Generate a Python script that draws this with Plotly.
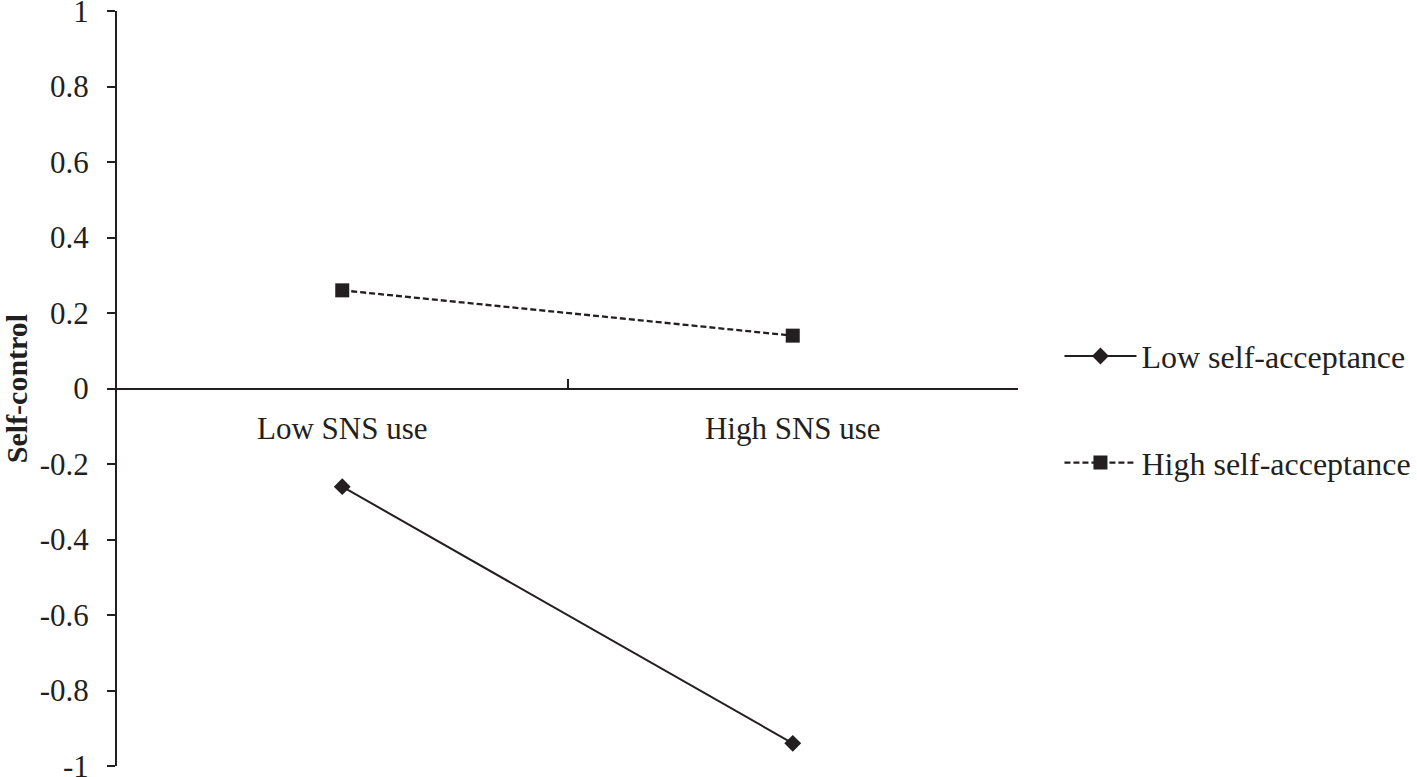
import plotly.graph_objects as go

# data
sns_levels = ["Low SNS use", "High SNS use"]
low_accept = [-0.26, -0.94]
high_accept = [0.26, 0.14]
y_ticks = [1, 0.8, 0.6, 0.4, 0.2, 0, -0.2, -0.4, -0.6, -0.8, -1]
y_tick_text = ["1", "0.8", "0.6", "0.4", "0.2", "0", "-0.2", "-0.4", "-0.6", "-0.8", "-1"]

INK = "#231f20"
FONT = "Liberation Serif"

fig = go.Figure()

fig.add_trace(go.Scatter(
    x=sns_levels, y=low_accept, mode="lines+markers", name="Low self-acceptance",
    line=dict(color=INK, width=2),
    marker=dict(symbol="diamond", size=13, color=INK),
    legendgroup="a",
))
fig.add_trace(go.Scatter(
    x=sns_levels, y=high_accept, mode="lines+markers", name="High self-acceptance",
    line=dict(color=INK, width=2.3, dash="6px,3px"),
    marker=dict(symbol="square", size=14, color=INK),
    legendgroup="b",
))

fig.update_layout(
    width=1417, height=777,
    margin=dict(l=117, r=399, t=11, b=11, autoexpand=False),
    paper_bgcolor="white", plot_bgcolor="white",
    font=dict(family=FONT, size=31, color=INK),
    showlegend=True,
    legend=dict(
        x=1.046, y=0.472, xanchor="left", yanchor="middle",
        font=dict(family=FONT, size=32), itemwidth=72,
        tracegroupgap=62, bgcolor="rgba(0,0,0,0)",
    ),
)

fig.update_xaxes(
    type="category", range=[-0.5, 1.5],
    anchor="free", position=0.5,
    showline=True, linecolor=INK, linewidth=2,
    ticks="inside", tickson="boundaries", ticklen=9, tickcolor=INK, tickwidth=2,
    tickfont=dict(family=FONT, size=31),
    ticklabelstandoff=12, automargin=False,
    showgrid=False, zeroline=False,
)
fig.update_yaxes(
    range=[-1, 1],
    tickvals=y_ticks, ticktext=y_tick_text,
    showline=True, linecolor=INK, linewidth=2,
    ticks="outside", ticklen=8, tickcolor=INK, tickwidth=2,
    tickfont=dict(family=FONT, size=31),
    ticklabelstandoff=12, ticklabeloverflow="allow", automargin=False,
    showgrid=False, zeroline=False,
    title=dict(text="<b>Self-control</b>", font=dict(family=FONT, size=30), standoff=17),
)

# drop the default 8px body margin so the figure fills the window
fig.write_html("out.html", config={"displayModeBar": False},
               post_script="document.body.style.margin='0';")
